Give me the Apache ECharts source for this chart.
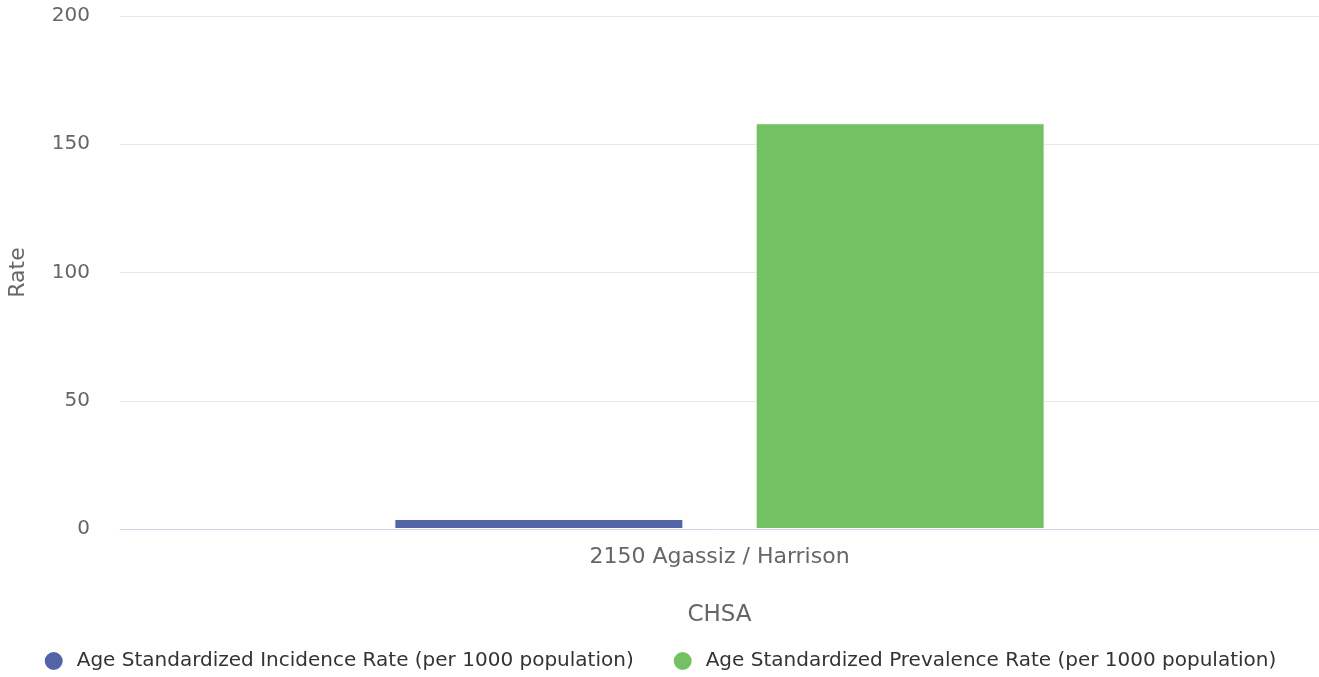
<!DOCTYPE html>
<html>
<head>
<meta charset="utf-8">
<script src="https://cdn.jsdelivr.net/npm/echarts@6/dist/echarts.min.js"></script>
<style>html,body{margin:0;padding:0;background:#fff;}#c{width:1319px;height:677px;}</style>
</head>
<body>
<div id="c"></div>
<script>
const categories = ['2150 Agassiz / Harrison'];
const seriesNames = ['Age Standardized Incidence Rate (per 1000 population)', 'Age Standardized Prevalence Rate (per 1000 population)'];
const incidenceValues = [3.9];
const prevalenceValues = [158.2];
const yTicks = [0, 50, 100, 150, 200];

const font = 'DejaVu Sans';
const chart = echarts.init(document.getElementById('c'));
chart.setOption({
  animation: false,
  textStyle: { fontFamily: font },
  grid: { left: 120, right: 0, top: 16, bottom: 148, outerBoundsMode: 'none', containLabel: false },
  legend: {
    bottom: 0,
    left: 'center',
    icon: 'circle',
    itemWidth: 20,
    itemHeight: 20,
    itemGap: 38,
    textStyle: { fontFamily: font, fontSize: 20, color: '#333', padding: [0, 0, 0, 8] },
    data: seriesNames
  },
  xAxis: {
    type: 'category',
    data: categories,
    name: 'CHSA',
    nameLocation: 'middle',
    nameGap: 75,
    nameTextStyle: { fontFamily: font, fontSize: 23, color: '#666' },
    axisLine: { lineStyle: { color: '#ccd6eb', width: 1 } },
    axisTick: { show: false },
    axisLabel: { fontFamily: font, fontSize: 22, color: '#666', margin: 17 }
  },
  yAxis: {
    type: 'value',
    min: yTicks[0],
    max: yTicks[yTicks.length - 1],
    interval: 50,
    name: 'Rate',
    nameLocation: 'middle',
    nameGap: 91,
    nameTextStyle: { fontFamily: font, fontSize: 22, color: '#666' },
    axisLine: { show: false },
    axisTick: { show: false },
    splitLine: { lineStyle: { color: '#e6e6e6', width: 1 } },
    axisLabel: { fontFamily: font, fontSize: 20, color: '#666', margin: 30, lineHeight: 26, verticalAlign: 'middle', padding: [5, 0, 0, 0] }
  },
  series: [
    {
      name: seriesNames[0],
      type: 'bar',
      data: incidenceValues,
      barWidth: 289,
      barGap: '25%',
      itemStyle: { color: '#5263a8', borderColor: '#ffffff', borderWidth: 1 }
    },
    {
      name: seriesNames[1],
      type: 'bar',
      data: prevalenceValues,
      barWidth: 289,
      barGap: '25%',
      itemStyle: { color: '#74c164', borderColor: '#ffffff', borderWidth: 1 }
    }
  ]
});
</script>
</body>
</html>
